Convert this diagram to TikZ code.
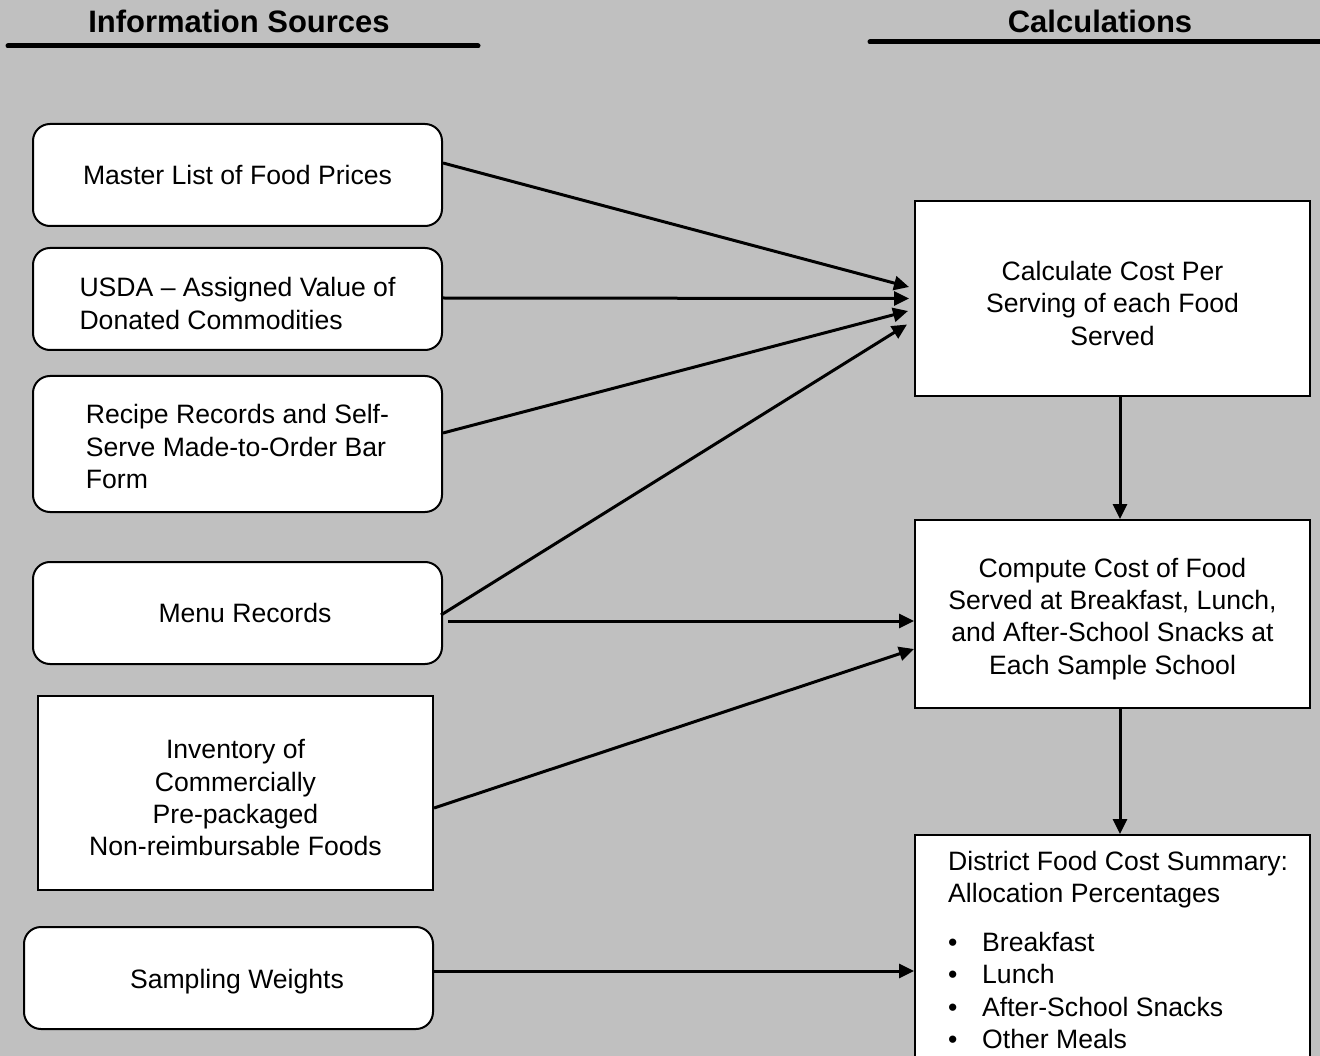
\documentclass[tikz,border=0pt]{standalone}
\usepackage{fontspec}
\setmainfont{Liberation Sans}
\usetikzlibrary{arrows.meta,calc}
\definecolor{bg}{HTML}{C0C0C0}
\newcommand{\lowerby}[1]{\rule{0pt}{#1}}
\begin{document}
\begin{tikzpicture}[x=1pt,y=-1pt,
  font=\fontsize{26.6}{32.4}\selectfont,
  src/.style={draw, fill=white, line width=2pt, rounded corners=17pt, minimum width=409pt, inner sep=0pt, align=center},
  calcbox/.style={draw, fill=white, line width=2pt, minimum width=395pt, inner sep=0pt, align=center},
  arr/.style={line width=3pt, -{Triangle[length=15pt,width=14pt]}},
  hdr/.style={font=\fontsize{31}{36}\selectfont\bfseries},
  rule/.style={line width=5pt, line cap=round}]
\useasboundingbox (0,0) rectangle (1320,1056);
\clip (0,0) rectangle (1320,1056);
\fill[bg] (0,0) rectangle (1320,1056);

\node[hdr] (h1) at (239,21) {Information Sources};
\draw[rule] (8,46) -- (478,46);
\node[hdr] (h2) at (1100,21) {Calculations};
\draw[rule] (870,42) -- (1330,42);

\node[src, minimum height=102pt] (master) at (237.5,175) {Master List of Food Prices};
\node[src, minimum height=102pt, align=left] (usda) at (237.5,299) {\lowerby{28pt}USDA – Assigned Value of\\Donated Commodities};
\node[src, minimum height=136pt, align=left] (recipe) at (237.5,444) {\lowerby{25pt}Recipe Records and Self-\\Serve Made-to-Order Bar\\Form};
\node[src, minimum height=102pt] (menu) at (237.5,613) {\hspace*{15pt}Menu Records};
\node[calcbox, minimum height=194pt] (inv) at (235.5,793) {\lowerby{29pt}Inventory of\\Commercially\\Pre-packaged\\Non-reimbursable Foods};
\node[src, minimum height=102pt] (samp) at (228.5,978) {\lowerby{26pt}\hspace*{17pt}Sampling Weights};

\node[calcbox, minimum height=195pt] (calc) at (1112.5,298.5) {\lowerby{29pt}Calculate Cost Per\\Serving of each Food\\Served};
\node[calcbox, minimum height=188pt] (comp) at (1112.5,614) {\lowerby{29pt}Compute Cost of Food\\Served at Breakfast, Lunch,\\and After-School Snacks at\\Each Sample School};
\node[calcbox, minimum height=235pt] (dist) at (1112.5,952.5) {};
\node[anchor=north west, inner sep=0pt, align=left] (dtext) at (948,851) {District Food Cost Summary:\\Allocation Percentages\\[16pt]\makebox[34pt][l]{•}Breakfast\\\makebox[34pt][l]{•}Lunch\\\makebox[34pt][l]{•}After-School Snacks\\\makebox[34pt][l]{•}Other Meals};

\draw[arr] ([yshift=12pt]master.east) -- ([xshift=-5pt,yshift=11.5pt]calc.west);
\draw[arr] ([yshift=1pt]usda.east) -- ([xshift=-5pt]calc.west);
\draw[arr] ([yshift=11pt]recipe.east) -- ([xshift=-6pt,yshift=-12.5pt]calc.west);
\draw[arr] ([xshift=-2pt,yshift=-2pt]menu.east) -- ([xshift=-7pt,yshift=-26pt]calc.west);
\draw[arr] ([xshift=5pt,yshift=-8pt]menu.east) -- ([yshift=-7pt]comp.west);
\draw[arr] ([yshift=-15pt]inv.east) -- ([yshift=-35pt]comp.west);
\draw[arr] ([yshift=7pt]samp.east) -- ([yshift=-18.5pt]dist.west);
\draw[arr] ([xshift=7.5pt]calc.south) -- ([xshift=7.5pt]comp.north);
\draw[arr] ([xshift=7.5pt]comp.south) -- ([xshift=7.5pt]dist.north);
\end{tikzpicture}
\end{document}
